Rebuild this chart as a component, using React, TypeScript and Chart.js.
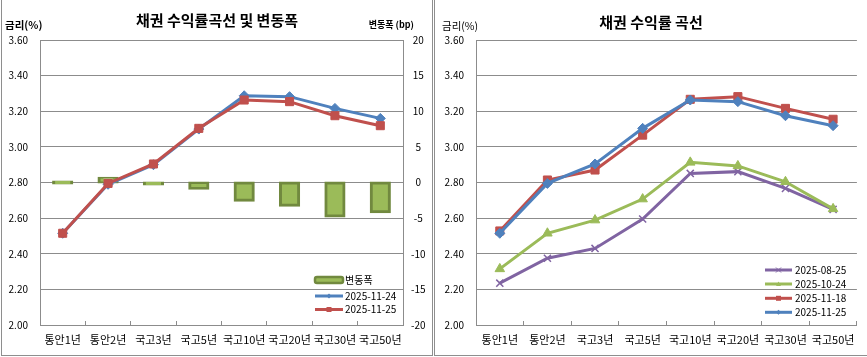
import React, { useEffect, useRef } from 'react';
import { Chart, registerables } from 'chart.js';
Chart.register(...registerables);

const categories = ['통안1년', '통안2년', '국고3년', '국고5년', '국고10년', '국고20년', '국고30년', '국고50년'];
// Left chart
const changeBp = [0, 0.6, -0.2, -0.8, -2.5, -3.2, -4.7, -4.1];
const yield1124 = [2.515, 2.79, 2.9, 3.1, 3.287, 3.282, 3.216, 3.16];
const yield1125 = [2.515, 2.795, 2.904, 3.104, 3.263, 3.254, 3.175, 3.119];
// Right chart
const yield0825 = [2.235, 2.375, 2.43, 2.595, 2.851, 2.861, 2.767, 2.649];
const yield1024 = [2.315, 2.515, 2.589, 2.707, 2.913, 2.893, 2.804, 2.652];
const yield1118 = [2.528, 2.814, 2.87, 3.066, 3.267, 3.282, 3.216, 3.155];

const rateMin = 2.0;
const rateMax = 3.6;
const rateStep = 0.2;
const bpMin = -20;
const bpMax = 20;
const bpStep = 5;

const FONT = "'Noto Sans CJK KR', 'Noto Sans', sans-serif";
const BLUE = '#4F81BD';
const RED = '#C0504D';
const GREEN = '#9BBB59';
const DKGREEN = '#71893F';
const PURPLE = '#8064A2';
const GRID = '#8c8c8c';
const BOX = '#8e8e8e';
const TEXT = '#000000';

function drawMarker(ctx: CanvasRenderingContext2D, style: string, x: number, y: number, r: number, color: string) {
  ctx.save();
  ctx.fillStyle = color;
  ctx.strokeStyle = color;
  ctx.lineWidth = 1;
  ctx.beginPath();
  if (style === 'rect') {
    ctx.rect(x - r, y - r, 2 * r, 2 * r);
    ctx.fill();
  } else if (style === 'rectRot') {
    ctx.moveTo(x - r, y); ctx.lineTo(x, y - r); ctx.lineTo(x + r, y); ctx.lineTo(x, y + r); ctx.closePath();
    ctx.fill();
  } else if (style === 'triangle') {
    ctx.moveTo(x - r, y + r * 0.8); ctx.lineTo(x, y - r); ctx.lineTo(x + r, y + r * 0.8); ctx.closePath();
    ctx.fill();
  } else if (style === 'crossRot') {
    ctx.moveTo(x - r, y - r); ctx.lineTo(x + r, y + r); ctx.moveTo(x + r, y - r); ctx.lineTo(x - r, y + r);
    ctx.stroke();
  }
  ctx.restore();
}

function makeDecor(cfg: any) {
  return {
    id: 'decor',
    afterDraw(chart: any) {
      const ctx: CanvasRenderingContext2D = chart.ctx;
      ctx.save();
      ctx.strokeStyle = BOX;
      ctx.lineWidth = 1;
      ctx.beginPath();
      for (const s of cfg.box) {
        ctx.moveTo(s[0], s[1]);
        ctx.lineTo(s[2], s[3]);
      }
      ctx.stroke();
      for (const t of cfg.texts) {
        ctx.font = t.font;
        ctx.fillStyle = TEXT;
        ctx.textAlign = t.align;
        ctx.textBaseline = 'middle';
        ctx.fillText(t.text, t.x, t.y);
      }
      const L = cfg.legend;
      L.items.forEach((label: string, i: number) => {
        const ds = chart.data.datasets.find((d: any) => d.label === label);
        const y = L.rows[i];
        if (ds.type === 'bar') {
          ctx.beginPath();
          const x0 = L.x, w = L.w, h = 6;
          const rr = 2;
          ctx.moveTo(x0 + rr, y - h / 2);
          ctx.lineTo(x0 + w - rr, y - h / 2);
          ctx.quadraticCurveTo(x0 + w, y - h / 2, x0 + w, y - h / 2 + rr);
          ctx.lineTo(x0 + w, y + h / 2 - rr);
          ctx.quadraticCurveTo(x0 + w, y + h / 2, x0 + w - rr, y + h / 2);
          ctx.lineTo(x0 + rr, y + h / 2);
          ctx.quadraticCurveTo(x0, y + h / 2, x0, y + h / 2 - rr);
          ctx.lineTo(x0, y - h / 2 + rr);
          ctx.quadraticCurveTo(x0, y - h / 2, x0 + rr, y - h / 2);
          ctx.closePath();
          ctx.fillStyle = ds.backgroundColor;
          ctx.fill();
          ctx.strokeStyle = ds.borderColor;
          ctx.lineWidth = 2.5;
          ctx.stroke();
        } else {
          ctx.beginPath();
          ctx.strokeStyle = ds.borderColor;
          ctx.lineWidth = 3;
          ctx.moveTo(L.x, y);
          ctx.lineTo(L.x + L.w, y);
          ctx.stroke();
          drawMarker(ctx, ds.pointStyle, L.x + L.w / 2, y, 2.5, ds.borderColor);
        }
        ctx.font = `10px ${FONT}`;
        ctx.fillStyle = TEXT;
        ctx.textAlign = 'left';
        ctx.textBaseline = 'middle';
        ctx.fillText(label, L.textX, y);
      });
      ctx.restore();
    },
  };
}

const tickFont = { family: FONT, size: 10 };
const catFont = { family: FONT, size: 11 };

function xScale() {
  return {
    type: 'category',
    offset: true,
    grid: { offset: true, drawOnChartArea: false, drawTicks: true, tickLength: -4, color: GRID },
    border: { color: GRID, width: 1 },
    ticks: { font: catFont, color: TEXT, padding: 12, maxRotation: 0, autoSkip: false },
    afterFit: (s: any) => { s.height = 32; },
  };
}

function rateScale(width: number) {
  return {
    position: 'left',
    min: rateMin,
    max: rateMax,
    ticks: { stepSize: rateStep, callback: (v: any) => Number(v).toFixed(2), padding: 12, font: tickFont, color: TEXT },
    grid: { color: GRID, drawTicks: false },
    border: { color: GRID },
    afterFit: (s: any) => { s.width = width; },
  };
}

function lineDs(label: string, data: number[], color: string, pointStyle: string, radius: number, order: number) {
  return {
    type: 'line',
    label,
    data,
    yAxisID: 'y',
    borderColor: color,
    backgroundColor: color,
    borderWidth: 3,
    pointStyle,
    pointRadius: radius,
    pointBorderWidth: pointStyle === 'crossRot' ? 1.5 : 1,
    pointBorderColor: color,
    pointBackgroundColor: color,
    order,
    tension: 0,
  };
}

function LeftChart() {
  const ref = useRef<HTMLCanvasElement>(null);
  useEffect(() => {
    const chart = new Chart(ref.current as HTMLCanvasElement, {
      type: 'bar',
      data: {
        labels: categories,
        datasets: [
          lineDs('2025-11-25', yield1125, RED, 'rect', 5.7, 0) as any,
          lineDs('2025-11-24', yield1124, BLUE, 'rectRot', 5, 1) as any,
          {
            type: 'bar',
            label: '변동폭',
            data: changeBp,
            yAxisID: 'y1',
            backgroundColor: GREEN,
            borderColor: DKGREEN,
            borderWidth: 3,
            borderSkipped: false,
            inflateAmount: 1.5,
            minBarLength: 1,
            barPercentage: 0.4,
            categoryPercentage: 1,
            order: 2,
          } as any,
        ],
      },
      options: {
        animation: false,
        responsive: false,
        maintainAspectRatio: false,
        layout: { padding: { top: 40, left: 0, right: 0, bottom: 0 } },
        plugins: { legend: { display: false }, title: { display: false }, tooltip: { enabled: false } },
        scales: {
          x: xScale() as any,
          y: rateScale(40) as any,
          y1: {
            position: 'right',
            min: bpMin,
            max: bpMax,
            ticks: { stepSize: bpStep, crossAlign: 'center', padding: 8, font: tickFont, color: TEXT },
            grid: { drawOnChartArea: false, drawTicks: false },
            border: { color: GRID },
            afterFit: (s: any) => { s.width = 30; },
          } as any,
        },
      },
      plugins: [
        makeDecor({
          box: [[1.5, 0, 1.5, 355.5], [432.5, 0, 432.5, 355.5], [1, 355.5, 433, 355.5]],
          texts: [
            { text: '채권 수익률곡선 및 변동폭', x: 217, y: 20, align: 'center', font: `bold 15px ${FONT}` },
            { text: '금리(%)', x: 5, y: 25, align: 'left', font: `bold 10.5px ${FONT}` },
            { text: '변동폭 (bp)', x: 414, y: 25, align: 'right', font: `bold 9px ${FONT}` },
          ],
          legend: { items: ['변동폭', '2025-11-24', '2025-11-25'], rows: [280, 296, 309.5], x: 315, w: 28, textX: 345 },
        }),
      ],
    });
    return () => chart.destroy();
  }, []);
  return <canvas ref={ref} width={433} height={357} style={{ position: 'absolute', left: 0, top: 0, width: 433, height: 357 }} />;
}

function RightChart() {
  const ref = useRef<HTMLCanvasElement>(null);
  useEffect(() => {
    const chart = new Chart(ref.current as HTMLCanvasElement, {
      type: 'line',
      data: {
        labels: categories,
        datasets: [
          lineDs('2025-11-25', yield1125, BLUE, 'rectRot', 5, 0) as any,
          lineDs('2025-11-18', yield1118, RED, 'rect', 5.7, 1) as any,
          lineDs('2025-10-24', yield1024, GREEN, 'triangle', 5.5, 2) as any,
          lineDs('2025-08-25', yield0825, PURPLE, 'crossRot', 5, 3) as any,
        ],
      },
      options: {
        animation: false,
        responsive: false,
        maintainAspectRatio: false,
        layout: { padding: { top: 40, left: 0, right: 10, bottom: 0 } },
        plugins: { legend: { display: false }, title: { display: false }, tooltip: { enabled: false } },
        scales: {
          x: xScale() as any,
          y: rateScale(43) as any,
        },
      },
      plugins: [
        makeDecor({
          box: [[1.5, 0, 1.5, 355.5], [1, 355.5, 434, 355.5]],
          texts: [
            { text: '채권 수익률 곡선', x: 218, y: 22, align: 'center', font: `bold 15px ${FONT}` },
            { text: '금리(%)', x: 9, y: 26.5, align: 'left', font: `10.5px ${FONT}` },
          ],
          legend: { items: ['2025-08-25', '2025-10-24', '2025-11-18', '2025-11-25'], rows: [270, 284, 298.3, 312.3], x: 332, w: 27, textX: 362 },
        }),
      ],
    });
    return () => chart.destroy();
  }, []);
  return <canvas ref={ref} width={434} height={357} style={{ position: 'absolute', left: 433, top: 0, width: 434, height: 357 }} />;
}

export default function App() {
  return (
    <div style={{ position: 'fixed', left: 0, top: 0, width: 867, height: 357, background: '#fff' }}>
      <LeftChart />
      <RightChart />
    </div>
  );
}
